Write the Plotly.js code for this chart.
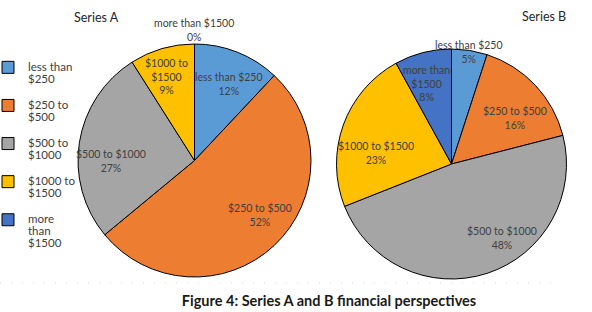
<!DOCTYPE html>
<html><head><meta charset="utf-8">
<script src="https://cdn.plot.ly/plotly-3.0.1.min.js"></script>
<style>html,body{margin:0;padding:0;background:#fff}#chart{width:592px;height:312px}</style>
</head><body><div id="chart"></div>
<script>
// ---- data ----
const categories = ["less than $250", "$250 to $500", "$500 to $1000", "$1000 to $1500", "more than $1500"];
const legendLines = [["less than", "$250"], ["$250 to", "$500"], ["$500 to", "$1000"], ["$1000 to", "$1500"], ["more", "than", "$1500"]];
const seriesA = [12, 52, 27, 9, 0];
const seriesB = [5, 16, 48, 23, 8];
const sliceTextA = ["less than $250", "$250 to $500", "$500 to $1000", "$1000 to<br>$1500", "more than $1500"];
const sliceTextB = ["less than $250", "$250 to $500", "$500 to $1000", "$1000 to $1500", "more than<br>$1500"];
const colors = ["#5B9BD5", "#ED7D31", "#A5A5A5", "#FFC000", "#4472C4"];

// ---- label placement style (radius factor, angle shift in degrees) ----
const labelRadiusA = [0.72, 0.73, 0.72, 0.76, 1.12];
const labelShiftA = [2.4, -7, -9, -2, 0];
const labelRadiusB = [0.99, 0.68, 0.78, 0.66, 0.73];
const labelShiftB = [0, 7, -16.6, -11.8, -3.1];

const W = 592, H = 312;
const pieA = {cx: 194.5, cy: 160.5, r: 116.5};
const pieB = {cx: 451.5, cy: 164, r: 115};
function domainOf(p) {
  return {x: [(p.cx - p.r) / W, (p.cx + p.r) / W], y: [1 - (p.cy + p.r) / H, 1 - (p.cy - p.r) / H]};
}
const txtFont = {family: "Lato, 'Open Sans', sans-serif", size: 10.5, color: "#404040"};

// legend labels: wrapped lines, padded to three lines so entries are evenly spaced
const legendLabels = legendLines.map(lines => {
  const padded = lines.slice();
  while (padded.length < 3) padded.push(" ");
  return padded.map(s => '<span style="font-size:11.5px">' + s + '</span>').join("<br>");
});

function sliceLabels(vals, texts, radii, shifts, p) {
  const sum = vals.reduce((a, b) => a + b, 0);
  let cum = 0;
  const out = [];
  vals.forEach((v, i) => {
    const mid = ((cum + v / 2) / sum) * 360 + shifts[i];
    cum += v;
    const rad = radii[i] * p.r;
    const a = mid * Math.PI / 180;
    const x = p.cx + rad * Math.sin(a);
    const y = p.cy - rad * Math.cos(a);
    out.push({
      x: x / W, y: 1 - y / H, xref: "paper", yref: "paper",
      xanchor: "center", yanchor: "middle", showarrow: false, align: "center",
      text: texts[i] + "<br>" + Math.round(v / sum * 100) + "%", font: txtFont
    });
  });
  return out;
}

const common = {
  type: "pie", labels: legendLabels, sort: false, direction: "clockwise", rotation: 0,
  textinfo: "none", hoverinfo: "none",
  marker: {colors: colors, line: {color: "#000000", width: 1}}
};
const traces = [
  Object.assign({}, common, {values: seriesA, name: "Series A", domain: domainOf(pieA)}),
  Object.assign({}, common, {values: seriesB, name: "Series B", domain: domainOf(pieB)})
];

const annotations = [].concat(
  sliceLabels(seriesA, sliceTextA, labelRadiusA, labelShiftA, pieA),
  sliceLabels(seriesB, sliceTextB, labelRadiusB, labelShiftB, pieB),
  [
    {x: 96.5 / W, y: 1 - 17 / H, xref: "paper", yref: "paper", showarrow: false, xanchor: "center", yanchor: "middle",
     text: "Series A", font: {family: "Lato, sans-serif", size: 12.5, color: "#262626"}},
    {x: 543.5 / W, y: 1 - 16 / H, xref: "paper", yref: "paper", showarrow: false, xanchor: "center", yanchor: "middle",
     text: "Series B", font: {family: "Lato, sans-serif", size: 12.5, color: "#262626"}}
  ]
);

const layout = {
  width: W, height: H,
  margin: {l: 0, r: 0, t: 0, b: 0, autoexpand: false},
  paper_bgcolor: "#ffffff",
  showlegend: true,
  legend: {x: -12 / W, xanchor: "left", y: 1 - 55 / H, yanchor: "top", valign: "top",
           font: {family: "Lato, sans-serif", size: 9, color: "#404040"},
           bgcolor: "rgba(0,0,0,0)", traceorder: "normal"},
  title: {text: "<b>Figure 4: Series A and B financial perspectives</b>",
          x: 329 / W, xanchor: "center", xref: "paper", y: 1 - 301 / H, yanchor: "middle", yref: "container",
          font: {family: "Lato, sans-serif", size: 14.5, color: "#1a1a1a"}},
  shapes: [
    {type: "line", xref: "paper", yref: "paper", x0: 0, x1: 560 / W, y0: 1 - 283 / H, y1: 1 - 283 / H,
     line: {color: "#d9d9d9", width: 1, dash: "1px,10px"}}
  ],
  annotations: annotations
};

Plotly.newPlot("chart", traces, layout, {displayModeBar: false, staticPlot: true});
</script>
</body></html>
